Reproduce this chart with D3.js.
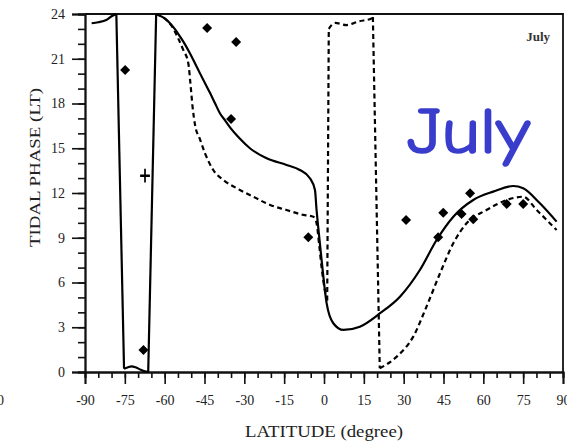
<!DOCTYPE html>
<html>
<head>
<meta charset="utf-8">
<script src="https://cdn.jsdelivr.net/npm/d3@7"></script>
<style>
  body { margin: 0; background: #fff; }
  svg { display: block; }
</style>
</head>
<body>
<div id="chart"></div>
<script>
// solid curve (latitude, phase)
const solidLat = [-87.5, -85, -82, -80, -78.2, -75.3, -74, -72.5, -71, -69, -67.5, -66.2,
  -63.2, -62.4, -60, -58, -56, -54.2, -52.3, -50.5, -48.6, -46.7, -44.8, -42.9, -41, -39.2, -37.2, -35.4,
  -32, -27.9, -21.6, -14.1, -9.1, -5.3, -3.4, -2.8, -2.2, -0.9, 1.0, 3.5, 7.3, 13.5, 21.1,
  28.6, 36.1, 42.4, 48.7, 56.2, 63.7, 71.3, 75, 81.3, 87.6];
const solidPhase = [23.38, 23.45, 23.6, 23.85, 24.0, 0.22, 0.3, 0.38, 0.32, 0.15, 0.05, 0.0,
  24.0, 23.93, 23.7, 23.38, 22.95, 22.48, 21.95, 21.37, 20.7, 20.02, 19.35, 18.7, 18.0, 17.35, 16.85, 16.4,
  15.7, 15.0, 14.33, 13.88, 13.54, 12.99, 12.2, 10.86, 9.74, 7.5, 4.6, 3.27, 2.82, 3.04, 3.94,
  5.05, 6.84, 8.85, 10.41, 11.53, 12.09, 12.47, 12.32, 11.31, 10.08];

// dashed curve (latitude, phase)
const dashLat = [-63.2, -60, -57, -55, -53, -51.1, -50.3, -49.5, -48.6, -46.7, -44.8, -41.7, -37.9, -32.9,
  -26.6, -20.3, -14.1, -7.8, -4.0, -2.8, -1.8, -0.9, 0.3, 1.2, 1.8, 2.9, 4.2, 8.5, 13, 17.9, 18.4,
  21.0, 27.4, 33.6, 38.6, 43.7, 48.7, 53.7, 61.2, 68.8, 75.0, 80.1, 87.6];
const dashPhase = [24.0, 23.7, 23.1, 22.4, 21.59, 20.7, 19.35, 17.79, 16.6, 15.6, 14.66, 13.54, 12.87, 12.32,
  11.75, 11.2, 10.86, 10.53, 10.41, 9.97, 8.5, 7.0, 5.5, 4.8, 23.0, 23.26, 23.4, 23.26, 23.5, 23.7, 23.8,
  0.25, 1.03, 2.37, 4.38, 6.62, 8.63, 9.97, 10.86, 11.53, 11.75, 10.86, 9.52];

// observations (diamonds)
const obsLat = [-74.9, -68.0, -44, -33.1, -35, -5.9, 30.9, 43.0, 44.9, 51.8, 55, 56.2, 68.8, 75];
const obsPhase = [20.25, 1.48, 23.06, 22.12, 16.96, 9.03, 10.19, 9.03, 10.68, 10.59, 11.98, 10.24, 11.26, 11.26];
// single plus marker
const plusLat = [-67.4];
const plusPhase = [13.16];

const xTicks = [-90, -75, -60, -45, -30, -15, 0, 15, 30, 45, 60, 75, 90];
const yTicks = [0, 3, 6, 9, 12, 15, 18, 21, 24];

const width = 567, height = 444;
const serif = "Liberation Serif, Times New Roman, serif";

const svg = d3.select("#chart").append("svg")
  .attr("width", width)
  .attr("height", height);

const x = d3.scaleLinear().domain([-90, 90]).range([85, 563]);
const y = d3.scaleLinear().domain([0, 24]).range([372, 14]);

// minor ticks
svg.append("g")
  .attr("transform", `translate(0,${y(0)})`)
  .call(d3.axisBottom(x).tickValues(d3.range(-90, 91, 5)).tickSize(6).tickFormat(""));
svg.append("g")
  .attr("transform", `translate(${x(-90)},0)`)
  .call(d3.axisLeft(y).tickValues(d3.range(0, 25, 1)).tickSize(7).tickFormat(""));

// major ticks + labels (plain hyphen for negatives, like the original)
svg.append("g")
  .attr("transform", `translate(0,${y(0)})`)
  .call(d3.axisBottom(x).tickValues(xTicks).tickSize(12).tickPadding(11).tickFormat(d => String(d)))
  .attr("font-family", serif)
  .attr("font-size", 14);
svg.append("g")
  .attr("transform", `translate(${x(-90)},0)`)
  .call(d3.axisLeft(y).tickValues(yTicks).tickSize(13).tickPadding(7).tickFormat(d => String(d)))
  .attr("font-family", serif)
  .attr("font-size", 14);

svg.selectAll(".tick text").attr("fill", "#222");
svg.selectAll(".domain").attr("stroke", "#111").attr("stroke-width", 1.8);
svg.selectAll(".tick line").attr("stroke", "#111").attr("stroke-width", 1.6);

// top and right frame
svg.append("path")
  .attr("d", `M${x(-90)},${y(24)}H${x(90)}V${y(0)}`)
  .attr("fill", "none")
  .attr("stroke", "#111")
  .attr("stroke-width", 1.8);

// split a curve where the phase wraps: smooth pieces + straight wrap links
function pieces(lats, phases) {
  const pts = d3.zip(lats, phases);
  const segs = [], links = [];
  let cur = [pts[0]];
  for (let i = 1; i < pts.length; i++) {
    if (Math.abs(pts[i][1] - pts[i - 1][1]) > 12) {
      segs.push(cur);
      links.push([pts[i - 1], pts[i]]);
      cur = [pts[i]];
    } else {
      cur.push(pts[i]);
    }
  }
  segs.push(cur);
  return { segs, links };
}

const smooth = d3.line().x(d => x(d[0])).y(d => y(d[1])).curve(d3.curveMonotoneX);
const straight = d3.line().x(d => x(d[0])).y(d => y(d[1]));

function drawCurve(lats, phases, dash) {
  const p = pieces(lats, phases);
  const g = svg.append("g")
    .attr("fill", "none")
    .attr("stroke", "#000")
    .attr("stroke-width", 2.2)
    .attr("stroke-linejoin", "round");
  if (dash) g.attr("stroke-dasharray", dash);
  g.selectAll(".seg").data(p.segs).join("path").attr("class", "seg").attr("d", smooth);
  g.selectAll(".link").data(p.links).join("path").attr("class", "link").attr("d", straight);
}

drawCurve(solidLat, solidPhase, null);
drawCurve(dashLat, dashPhase, "5,3.5");

svg.selectAll(".obs")
  .data(d3.zip(obsLat, obsPhase))
  .join("path")
    .attr("class", "obs")
    .attr("d", d3.symbol(d3.symbolSquare, 50))
    .attr("transform", d => `translate(${x(d[0])},${y(d[1])}) rotate(45)`)
    .attr("fill", "#000");

svg.selectAll(".plus")
  .data(d3.zip(plusLat, plusPhase))
  .join("path")
    .attr("class", "plus")
    .attr("d", d3.symbol(d3.symbolPlus, 45))
    .attr("transform", d => `translate(${x(d[0])},${y(d[1])}) scale(0.85,1.2)`)
    .attr("fill", "none")
    .attr("stroke", "#000")
    .attr("stroke-width", 2);

// axis titles
svg.append("text")
  .attr("x", 245)
  .attr("y", 437)
  .attr("textLength", 158)
  .attr("lengthAdjust", "spacingAndGlyphs")
  .style("font-family", serif)
  .style("font-size", "16px")
  .attr("fill", "#222")
  .text("LATITUDE  (degree)");

svg.append("text")
  .attr("transform", "translate(40,247) rotate(-90)")
  .attr("textLength", 159)
  .attr("lengthAdjust", "spacingAndGlyphs")
  .style("font-family", serif)
  .style("font-size", "15px")
  .attr("fill", "#222")
  .text("TIDAL  PHASE  (LT)");

// cut-off label at the far left
svg.append("text")
  .attr("x", -3)
  .attr("y", 405)
  .style("font-family", serif)
  .style("font-size", "14px")
  .attr("fill", "#222")
  .text("0");

// panel label
svg.append("text")
  .attr("x", 550)
  .attr("y", 41)
  .attr("text-anchor", "end")
  .style("font-family", serif)
  .style("font-size", "13px")
  .style("font-weight", "bold")
  .attr("fill", "#333")
  .text("July");

// big blue annotation
svg.append("text")
  .attr("x", 407)
  .attr("y", 153)
  .attr("textLength", 123)
  .attr("lengthAdjust", "spacingAndGlyphs")
  .style("font-family", "Comic Sans MS, Comic Neue, DejaVu Sans, sans-serif")
  .style("font-size", "64px")
  .attr("fill", "#3a3dcc")
  .attr("stroke", "#3a3dcc")
  .attr("stroke-width", 1.6)
  .text("July");
</script>
</body>
</html>
